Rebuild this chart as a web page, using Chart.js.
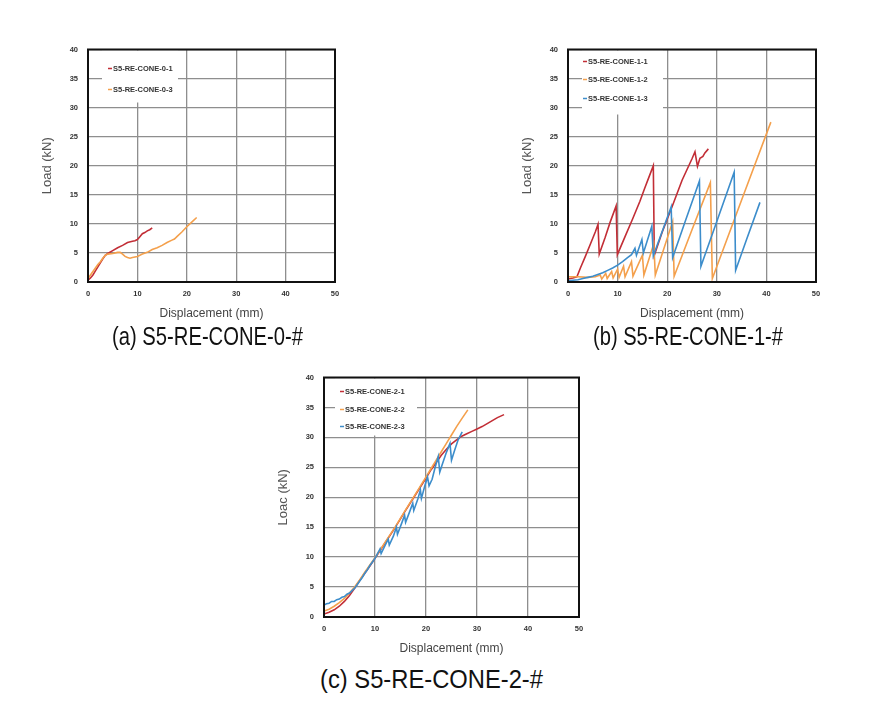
<!DOCTYPE html>
<html>
<head>
<meta charset="utf-8">
<script src="https://cdn.jsdelivr.net/npm/chart.js@4.4.1/dist/chart.umd.min.js"></script>
<style>
  body { margin: 0; background: #fff; width: 879px; height: 711px; position: relative; overflow: hidden; font-family: 'Liberation Sans', Arial, sans-serif; }
  canvas { position: absolute; }
  .cap { position: absolute; font-size: 26px; line-height: 30px; color: #111; white-space: nowrap; transform-origin: 0 50%; }
</style>
</head>
<body>
<canvas id="chartA"></canvas>
<canvas id="chartB"></canvas>
<canvas id="chartC"></canvas>
<div class="cap" id="capA" data-w="191" style="left:112px;top:321px">(a) S5-RE-CONE-0-#</div>
<div class="cap" id="capB" data-w="190" style="left:593px;top:321px">(b) S5-RE-CONE-1-#</div>
<div class="cap" id="capC" data-w="223" style="left:320px;top:664px">(c) S5-RE-CONE-2-#</div>
<script>
// Series data (displacement in mm, load in kN)
const dispA1 = [0, 0.5, 1, 1.5, 2, 2.5, 3, 3.5, 4, 5, 6, 7, 8, 9, 9.5, 10, 10.5, 11, 11.5, 12, 12.5, 13];
const loadA1 = [0.3, 0.7, 1.2, 1.9, 2.6, 3.3, 4.0, 4.6, 4.9, 5.4, 5.9, 6.3, 6.8, 7.0, 7.1, 7.3, 7.8, 8.3, 8.5, 8.8, 9.0, 9.3];
const dispA3 = [0, 0.5, 1, 1.5, 2, 2.5, 3, 3.5, 4, 5, 6, 6.5, 7, 7.5, 8, 8.5, 9, 10, 11, 12, 13, 14, 15, 16, 17, 17.5, 18, 19, 20, 21, 22];
const loadA3 = [0.6, 1.2, 1.8, 2.4, 3.0, 3.5, 4.1, 4.6, 4.8, 4.9, 5.1, 5.1, 4.8, 4.4, 4.2, 4.1, 4.2, 4.4, 4.8, 5.1, 5.6, 5.9, 6.3, 6.8, 7.2, 7.4, 7.8, 8.6, 9.5, 10.3, 11.1];

const dispB1 = [0, 1, 1.8, 2.5, 3.5, 4.5, 5.5, 6.05, 6.3, 7.5, 8.5, 9.7, 9.95, 11.5, 13, 14.5, 15.5, 16.3, 17.2, 17.4, 19, 21, 23, 25, 25.6, 26.1, 26.6, 27.2, 27.6, 28.3];
const loadB1 = [0.5, 0.7, 0.9, 2.4, 4.4, 6.5, 8.6, 9.9, 4.8, 7.7, 10.3, 13.1, 4.7, 7.8, 10.8, 13.9, 16.2, 18.0, 20.0, 4.6, 8.6, 13.0, 17.5, 21.2, 22.4, 19.9, 21.3, 21.6, 22.2, 22.9];
const dispB2 = [0, 2, 4, 5.5, 6.5, 6.8, 7.6, 7.9, 8.8, 9.1, 10.0, 10.3, 11.2, 11.5, 12.8, 13.1, 15.0, 15.3, 17.3, 17.6, 21.1, 21.4, 25.0, 28.7, 29.1, 35.0, 40.9];
const loadB2 = [0.9, 0.9, 0.8, 0.9, 1.2, 0.5, 1.5, 0.6, 1.8, 0.7, 2.2, 0.8, 2.7, 0.9, 3.5, 1.0, 4.6, 1.2, 6.6, 1.2, 10.4, 1.0, 9.0, 17.1, 0.6, 14.1, 27.5];
const dispB3 = [0, 1, 2, 3, 4, 5, 6, 7, 8, 9, 10, 11, 12, 12.8, 13.5, 13.8, 14.9, 15.2, 16.9, 17.2, 20.8, 21.1, 23.5, 26.5, 26.8, 30, 33.5, 33.8, 36, 38.7];
const loadB3 = [0.2, 0.3, 0.4, 0.6, 0.8, 1.0, 1.3, 1.6, 2.0, 2.4, 2.9, 3.5, 4.2, 4.7, 5.8, 4.6, 7.3, 5.0, 9.6, 4.5, 12.9, 4.2, 10.1, 17.4, 2.7, 10.4, 18.9, 2.0, 7.3, 13.7];

const dispC1 = [0, 1, 2, 3, 4, 5, 6, 7, 8, 9, 10, 12, 14, 16, 18, 20, 21, 22, 23, 24, 25, 26, 27, 28, 29, 30, 31, 32, 33, 34, 35.3];
const loadC1 = [0.5, 0.8, 1.2, 1.8, 2.6, 3.6, 4.8, 6.1, 7.3, 8.5, 9.8, 12.4, 15.0, 17.8, 20.5, 23.2, 24.6, 25.8, 27.0, 28.0, 28.9, 29.6, 30.2, 30.6, 31.0, 31.4, 31.8, 32.3, 32.8, 33.3, 33.8];
const dispC2 = [0, 1, 2, 3, 4, 5, 6, 7, 8, 10, 12, 14, 16, 18, 20, 21, 22, 23, 24, 25, 26, 27, 28.2];
const loadC2 = [1.0, 1.3, 1.8, 2.4, 3.1, 4.0, 5.0, 6.2, 7.5, 9.9, 12.5, 15.1, 17.9, 20.6, 23.4, 24.8, 26.2, 27.6, 29.0, 30.4, 31.8, 33.1, 34.6];
const dispC3 = [0, 0.5, 1, 1.5, 2, 2.5, 3, 3.5, 4, 4.5, 5, 5.5, 6, 6.5, 7, 7.5, 8, 8.5, 9, 9.5, 10, 10.5, 11.0, 11.2, 12.0, 12.6, 12.8, 13.6, 14.2, 14.4, 15.2, 15.8, 16.0, 16.8, 17.4, 17.6, 18.4, 18.9, 19.1, 19.8, 20.3, 20.6, 21.2, 21.8, 22.4, 22.7, 23.2, 24.0, 24.7, 25.0, 25.6, 26.3, 27.1];
const loadC3 = [2.0, 2.2, 2.3, 2.6, 2.6, 2.9, 3.0, 3.3, 3.4, 3.8, 4.0, 4.4, 4.8, 5.4, 6.0, 6.6, 7.3, 7.9, 8.6, 9.2, 9.8, 10.6, 11.4, 10.6, 12.0, 13.0, 12.0, 13.5, 15.0, 13.8, 15.6, 17.0, 15.8, 17.6, 19.0, 17.8, 19.7, 21.2, 19.8, 22.0, 23.4, 21.9, 23.0, 25.0, 26.8, 24.2, 25.5, 27.5, 29.0, 26.2, 27.8, 29.6, 30.9];

const xTicks = { min: 0, max: 50, step: 10 };
const yTicks = { min: 0, max: 40, step: 5 };

const colors = {
  red: '#C22E36',
  orange: '#F4A04C',
  blue: '#3C8DCB',
  grid: '#8E8E8E',
  text: '#333333'
};

Chart.defaults.font.family = "'Liberation Sans', Arial, sans-serif";

function pts(xs, ys) {
  return xs.map((x, i) => ({ x: x, y: ys[i] }));
}

// later series sit on top, as in the spreadsheet original
function series(label, xs, ys, color, idx) {
  return {
    label: label,
    data: pts(xs, ys),
    showLine: true,
    borderColor: color,
    backgroundColor: color,
    borderWidth: 1.6,
    pointRadius: 0,
    tension: 0,
    order: -idx
  };
}

// white legend box inside the plot, with a short dash before each name
const insideLegend = {
  id: 'insideLegend',
  afterDatasetsDraw(chart, args, opts) {
    const { ctx, chartArea } = chart;
    ctx.save();
    ctx.fillStyle = '#fff';
    ctx.fillRect(chartArea.left + opts.dx, chartArea.top + opts.dy, opts.w, opts.h);
    ctx.font = "bold 7.5px 'Liberation Sans', Arial, sans-serif";
    ctx.textBaseline = 'middle';
    chart.data.datasets.forEach((ds, i) => {
      const x = chartArea.left + opts.tx;
      const y = chartArea.top + opts.rows[i];
      ctx.strokeStyle = ds.borderColor;
      ctx.lineWidth = 1.5;
      ctx.beginPath();
      ctx.moveTo(x - 5, y);
      ctx.lineTo(x - 1, y);
      ctx.stroke();
      ctx.fillStyle = colors.text;
      ctx.fillText(ds.label, x, y);
    });
    // black frame round the plot
    ctx.strokeStyle = '#111';
    ctx.lineWidth = 2;
    ctx.strokeRect(chartArea.left, chartArea.top, chartArea.right - chartArea.left, chartArea.bottom - chartArea.top);
    ctx.restore();
  }
};

function buildChart(id, area, datasets, yTitle, legend) {
  const padL = 58, padT = 8, padR = 15, padB = 45;
  const canvas = document.getElementById(id);
  canvas.width = area.right - area.left + padL + padR;
  canvas.height = area.bottom - area.top + padT + padB;
  canvas.style.left = (area.left - padL) + 'px';
  canvas.style.top = (area.top - padT) + 'px';

  new Chart(canvas, {
    type: 'scatter',
    data: { datasets: datasets },
    plugins: [insideLegend],
    options: {
      responsive: false,
      animation: false,
      devicePixelRatio: 1,
      layout: { padding: { left: 0, top: padT, right: padR, bottom: 0 } },
      plugins: {
        legend: { display: false },
        tooltip: { enabled: false },
        insideLegend: legend
      },
      scales: {
        x: {
          type: 'linear',
          min: xTicks.min,
          max: xTicks.max,
          afterFit: s => { s.height = padB; },
          border: { display: false },
          grid: { color: colors.grid, lineWidth: 1.3, drawTicks: false },
          ticks: { stepSize: xTicks.step, padding: 7, color: colors.text, font: { size: 7.5, weight: 'bold' } },
          title: { display: true, text: 'Displacement (mm)', color: '#444', font: { size: 12 }, padding: { top: 0, bottom: 6 } }
        },
        y: {
          type: 'linear',
          min: yTicks.min,
          max: yTicks.max,
          afterFit: s => { s.width = padL; },
          border: { display: false },
          grid: { color: colors.grid, lineWidth: 1.3, drawTicks: false },
          ticks: { stepSize: yTicks.step, padding: 10, color: colors.text, font: { size: 7.5, weight: 'bold' } },
          title: { display: true, text: yTitle, color: '#555', font: { size: 13 }, padding: { top: 10, bottom: 0 } }
        }
      }
    }
  });
}

buildChart('chartA', { left: 88, top: 43, right: 335, bottom: 282 }, [
  series('S5-RE-CONE-0-1', dispA1, loadA1, colors.red, 0),
  series('S5-RE-CONE-0-3', dispA3, loadA3, colors.orange, 1)
], 'Load (kN)', { dx: 14, dy: 1, w: 76, h: 52, tx: 25, rows: [19, 40] });

buildChart('chartB', { left: 568, top: 43, right: 816, bottom: 282 }, [
  series('S5-RE-CONE-1-1', dispB1, loadB1, colors.red, 0),
  series('S5-RE-CONE-1-2', dispB2, loadB2, colors.orange, 1),
  series('S5-RE-CONE-1-3', dispB3, loadB3, colors.blue, 2)
], 'Load (kN)', { dx: 14, dy: 1, w: 81, h: 64, tx: 20, rows: [12, 30, 49] });

buildChart('chartC', { left: 324, top: 371, right: 579, bottom: 617 }, [
  series('S5-RE-CONE-2-1', dispC1, loadC1, colors.red, 0),
  series('S5-RE-CONE-2-2', dispC2, loadC2, colors.orange, 1),
  series('S5-RE-CONE-2-3', dispC3, loadC3, colors.blue, 2)
], 'Loac (kN)', { dx: 11, dy: 1, w: 82, h: 57, tx: 21, rows: [14, 32, 49] });

// squeeze the captions to the width they take in the figure
document.querySelectorAll('.cap').forEach(el => {
  const w = el.getBoundingClientRect().width;
  el.style.transform = 'scaleX(' + (Number(el.dataset.w) / w) + ')';
});
</script>
</body>
</html>
